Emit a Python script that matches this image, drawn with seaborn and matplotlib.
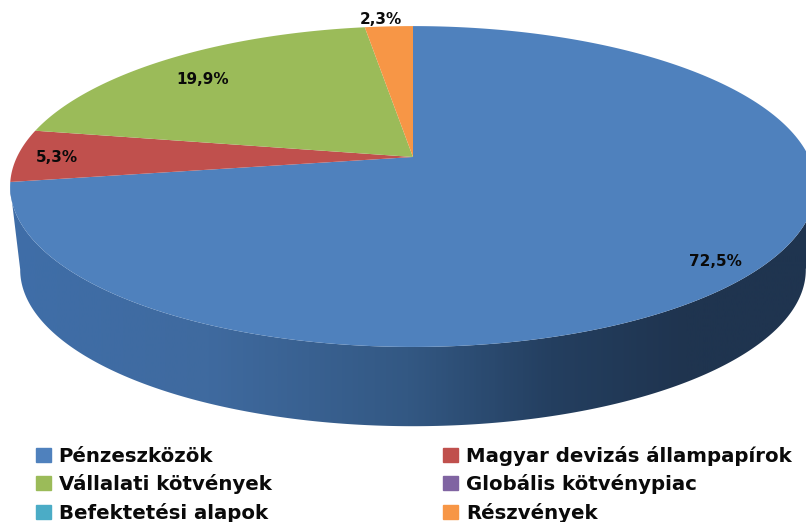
import matplotlib
matplotlib.use("Agg")
import matplotlib.pyplot as plt
from matplotlib.colors import LinearSegmentedColormap
from matplotlib.patches import Patch, Polygon
import numpy as np
import seaborn as sns

categories = ["Pénzeszközök", "Magyar devizás állampapírok", "Vállalati kötvények",
              "Globális kötvénypiac", "Befektetési alapok", "Részvények"]
values = [72.5, 5.3, 19.9, 0.0, 0.0, 2.3]
colors = ["#4F81BD", "#C0504D", "#9BBB59", "#8064A2", "#4BACC6", "#F79646"]
label_pos = {0: (715, 261), 1: (57, 157), 2: (203, 79), 5: (381, 19)}

# pie geometry in pixels, the tilt is a simple perspective on the unit disc
cx, cy = 413, 157
rx, ry = 396, 155
k = 0.184
depth = 84
shrink = 0.975


def project(theta):
    u, v = np.sin(theta), np.cos(theta)
    w = 1 + k * v
    return rx * u / w, -ry * v / w


sns.set_theme(style="white")
fig = plt.figure(figsize=(8.06, 5.22), dpi=100)
ax = fig.add_axes([0, 0, 1, 1])
ax.set_xlim(0, 806)
ax.set_ylim(522, 0)
ax.axis("off")

# side wall
t = np.linspace(0, 2 * np.pi, 1441)
x, y = project(t)
i_right, i_left = np.argmax(x), np.argmin(x)
top_x, top_y = cx + x[i_right:i_left + 1], cy + y[i_right:i_left + 1]
bot_x = cx + shrink * x[i_right:i_left + 1]
bot_y = cy + shrink * y[i_right:i_left + 1] + depth
side = Polygon(np.r_[np.c_[top_x, top_y], np.c_[bot_x, bot_y][::-1]],
               closed=True, fc="none", ec="none")
ax.add_patch(side)
shade = LinearSegmentedColormap.from_list(
    "side",
    [(0, "#3F6EA8"), (0.25, "#3F6A9F"), (0.5, "#335883"), (0.68, "#243F60"),
     (0.85, "#1F344F"), (1, "#1F344F")],
)
img = ax.imshow(np.linspace(0, 1, 400)[None, :], cmap=shade, aspect="auto",
                extent=(10, 806, 522, 0), zorder=1)
ax.set_xlim(0, 806)
ax.set_ylim(522, 0)
img.set_clip_path(side)

# top face
edges = np.r_[0, np.cumsum(values)] / 100 * 2 * np.pi
for i, v in enumerate(values):
    if v == 0:
        continue
    a = np.linspace(edges[i], edges[i + 1], 300)
    wx, wy = project(a)
    ax.fill(np.r_[cx, cx + wx], np.r_[cy, cy + wy], color=colors[i], lw=0, zorder=2)
    ax.text(*label_pos[i], f"{v:.1f}%".replace(".", ","), ha="center", va="center",
            fontsize=11, fontweight="bold", color="#0A0A0A", zorder=3)

order = [0, 2, 4, 1, 3, 5]
handles = [Patch(color=colors[i], label=categories[i]) for i in order]
ax.legend(handles=handles, ncol=2, loc="upper left", bbox_to_anchor=(36, 446),
          bbox_transform=ax.transData, frameon=False, prop={"size": 14.2, "weight": "bold"},
          handlelength=0.75, handleheight=0.7, handletextpad=0.4, labelspacing=0.42,
          columnspacing=8.7, labelcolor="#0A0A0A", borderpad=0, borderaxespad=0)

fig.savefig("out.png", dpi=100)
